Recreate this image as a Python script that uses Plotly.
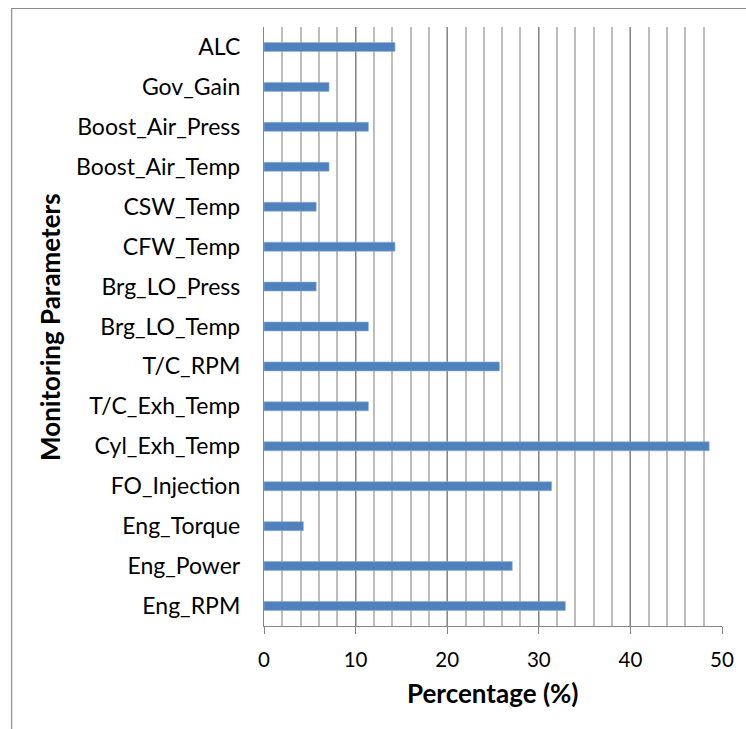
import plotly.graph_objects as go

# Monitoring parameters, bottom to top
parameters = [
    "Eng_RPM", "Eng_Power", "Eng_Torque", "FO_Injection", "Cyl_Exh_Temp",
    "T/C_Exh_Temp", "T/C_RPM", "Brg_LO_Temp", "Brg_LO_Press", "CFW_Temp",
    "CSW_Temp", "Boost_Air_Temp", "Boost_Air_Press", "Gov_Gain", "ALC",
]
percentages = [
    32.9, 27.1, 4.3, 31.4, 48.6,
    11.4, 25.7, 11.4, 5.7, 14.3,
    5.7, 7.1, 11.4, 7.1, 14.3,
]
x_ticks = [0, 10, 20, 30, 40, 50]

W, H = 746, 729
L, R, T, B = 264, 21, 27, 103
PW, PH = W - L - R, H - T - B

FONT = "Lato"

fig = go.Figure(
    go.Bar(
        x=percentages,
        y=parameters,
        orientation="h",
        width=0.225,
        marker=dict(color="#4F81BD", line=dict(color="#8FB0DA", width=0.6)),
    )
)


def px_to_paper_x(px):
    return (px - L) / PW


def px_to_paper_y(py):
    return (H - B - py) / PH


fig.update_layout(
    width=W,
    height=H,
    margin=dict(l=L, r=R, t=T, b=B),
    paper_bgcolor="white",
    plot_bgcolor="white",
    showlegend=False,
    font=dict(family=FONT, size=20, color="#000000"),
    xaxis=dict(
        range=[0, 50],
        tickvals=x_ticks,
        ticktext=[str(v) for v in x_ticks],
        showgrid=True,
        gridcolor="#868686",
        gridwidth=1.3,
        minor=dict(dtick=2, tick0=0, showgrid=True, gridcolor="#BDBDBD", gridwidth=1.8),
        showline=True,
        linecolor="#868686",
        linewidth=1.3,
        ticks="outside",
        ticklen=7,
        tickcolor="#868686",
        tickwidth=1.3,
        tickfont=dict(family=FONT, size=20.5),
        ticklabelstandoff=8,
        zeroline=False,
        fixedrange=True,
    ),
    yaxis=dict(
        type="category",
        categoryorder="array",
        categoryarray=parameters,
        range=[-0.5, len(parameters) - 0.5],
        showgrid=False,
        showline=True,
        linecolor="#868686",
        linewidth=1.3,
        ticks="",
        tickfont=dict(family=FONT, size=23),
        ticklabelstandoff=18,
        fixedrange=True,
    ),
    annotations=[
        dict(
            text="<b>Percentage (%)</b>",
            xref="paper", yref="paper",
            x=0.5, y=px_to_paper_y(693),
            xanchor="center", yanchor="middle",
            showarrow=False,
            font=dict(family=FONT, size=26),
        ),
        dict(
            text="<b>Monitoring Parameters</b>",
            xref="paper", yref="paper",
            x=px_to_paper_x(48), y=0.5,
            xanchor="center", yanchor="middle",
            textangle=-90,
            showarrow=False,
            font=dict(family=FONT, size=26),
        ),
    ],
    shapes=[
        dict(
            type="rect",
            xref="paper", yref="paper",
            x0=px_to_paper_x(10), x1=px_to_paper_x(800),
            y0=px_to_paper_y(800), y1=px_to_paper_y(8.5),
            line=dict(color="#8C8C8C", width=1.2),
            fillcolor="rgba(0,0,0,0)",
            layer="below",
        )
    ],
)

fig.write_html("out.html")
